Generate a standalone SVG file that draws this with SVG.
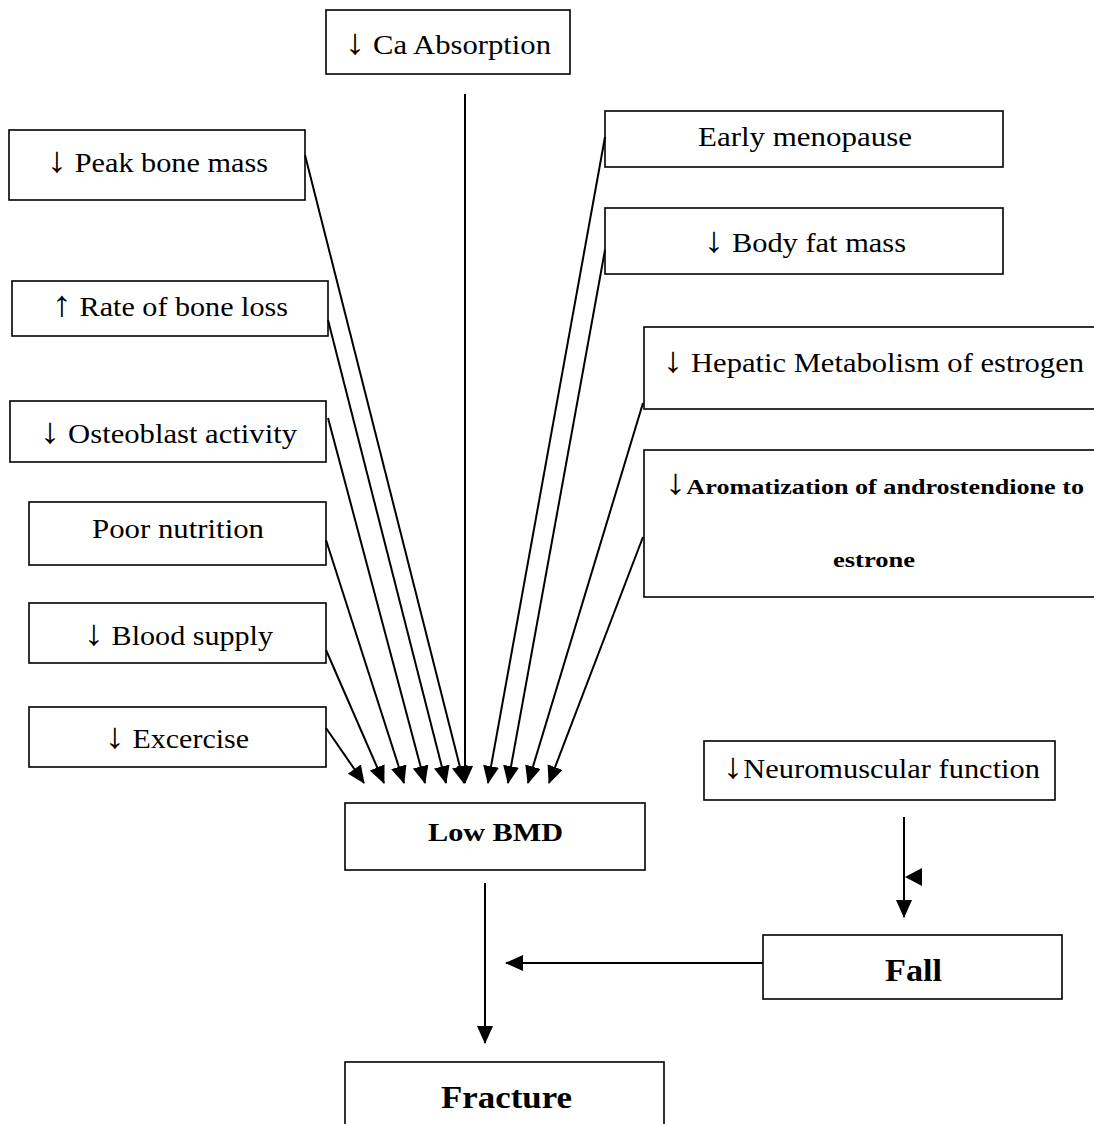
<svg xmlns="http://www.w3.org/2000/svg" width="1094" height="1124" viewBox="0 0 1094 1124">
<defs>
<style>
.box{fill:#fff;stroke:#000;stroke-width:1.6}
.t{font-family:"Liberation Serif","Times New Roman",serif;font-size:27px;fill:#000}
.b{font-family:"Liberation Serif","Times New Roman",serif;font-weight:bold;fill:#000}
.a{font-size:36px;font-weight:normal}
.c{stroke:#000;stroke-width:2;fill:none;marker-end:url(#ah)}
</style>
<marker id="ah" markerUnits="userSpaceOnUse" viewBox="0 0 18 16" markerWidth="18" markerHeight="16" refX="17" refY="8" orient="auto">
<path d="M0,0 L18,8 L0,16 z" fill="#000"/>
</marker>
</defs>
<rect width="1094" height="1124" fill="#fff"/>
<g id="ca"><rect class="box" x="326" y="10" width="244" height="64"/><text class="t" x="345" y="54" textLength="206" lengthAdjust="spacingAndGlyphs"><tspan class="a">↓</tspan> Ca Absorption</text></g>
<g id="peak"><rect class="box" x="9" y="130" width="296" height="70"/><text class="t" x="47" y="172" textLength="221" lengthAdjust="spacingAndGlyphs"><tspan class="a">↓</tspan> Peak bone mass</text></g>
<g id="rate"><rect class="box" x="12" y="281" width="316" height="55"/><text class="t" x="52" y="316" textLength="236" lengthAdjust="spacingAndGlyphs"><tspan class="a">↑</tspan> Rate of bone loss</text></g>
<g id="osteo"><rect class="box" x="10" y="401" width="316" height="61"/><text class="t" x="40" y="443" textLength="257" lengthAdjust="spacingAndGlyphs"><tspan class="a">↓</tspan> Osteoblast activity</text></g>
<g id="poor"><rect class="box" x="29" y="502" width="297" height="63"/><text class="t" x="92" y="538" textLength="172" lengthAdjust="spacingAndGlyphs">Poor nutrition</text></g>
<g id="blood"><rect class="box" x="29" y="603" width="297" height="60"/><text class="t" x="84" y="645" textLength="189" lengthAdjust="spacingAndGlyphs"><tspan class="a">↓</tspan> Blood supply</text></g>
<g id="exer"><rect class="box" x="29" y="707" width="297" height="60"/><text class="t" x="105" y="748" textLength="144" lengthAdjust="spacingAndGlyphs"><tspan class="a">↓</tspan> Excercise</text></g>
<g id="early"><rect class="box" x="605" y="111" width="398" height="56"/><text class="t" x="698" y="146" textLength="214" lengthAdjust="spacingAndGlyphs">Early menopause</text></g>
<g id="bodyfat"><rect class="box" x="605" y="208" width="398" height="66"/><text class="t" x="704" y="252" textLength="202" lengthAdjust="spacingAndGlyphs"><tspan class="a">↓</tspan> Body fat mass</text></g>
<g id="hepatic"><rect class="box" x="644" y="327" width="460" height="82"/><text class="t" x="663" y="372" textLength="421" lengthAdjust="spacingAndGlyphs"><tspan class="a">↓</tspan> Hepatic Metabolism of estrogen</text></g>
<g id="arom"><rect class="box" x="644" y="450" width="460" height="147"/><text class="b" font-size="22" x="665" y="494" textLength="419" lengthAdjust="spacingAndGlyphs"><tspan class="a">↓</tspan>Aromatization of androstendione to</text><text class="b" font-size="22" x="833" y="567" textLength="82" lengthAdjust="spacingAndGlyphs">estrone</text></g>
<g id="neuro"><rect class="box" x="704" y="741" width="351" height="59"/><text class="t" x="723" y="778" textLength="317" lengthAdjust="spacingAndGlyphs"><tspan class="a">↓</tspan>Neuromuscular function</text></g>
<g id="lowbmd"><rect class="box" x="345" y="803" width="300" height="67"/><text class="b" font-size="26" x="428" y="841" textLength="135" lengthAdjust="spacingAndGlyphs">Low BMD</text></g>
<g id="fall"><rect class="box" x="763" y="935" width="299" height="64"/><text class="b" font-size="32" x="885" y="981" textLength="57" lengthAdjust="spacingAndGlyphs">Fall</text></g>
<g id="fracture"><rect class="box" x="345" y="1062" width="319" height="80"/><text class="b" font-size="32" x="441" y="1108" textLength="131" lengthAdjust="spacingAndGlyphs">Fracture</text></g>
<g id="connectors">
<line class="c" x1="326" y1="728" x2="364" y2="783"/>
<line class="c" x1="326" y1="650" x2="384" y2="783"/>
<line class="c" x1="326" y1="540" x2="404" y2="783"/>
<line class="c" x1="328" y1="418" x2="425" y2="783"/>
<line class="c" x1="328" y1="320" x2="446" y2="783"/>
<line class="c" x1="305" y1="155" x2="464" y2="783"/>
<line class="c" x1="465" y1="94" x2="465" y2="783"/>
<line class="c" x1="605" y1="137" x2="488" y2="783"/>
<line class="c" x1="605" y1="250" x2="508" y2="783"/>
<line class="c" x1="643" y1="403" x2="528" y2="783"/>
<line class="c" x1="643" y1="537" x2="549" y2="783"/>
<line class="c" x1="485" y1="883" x2="485" y2="1043"/>
<line class="c" x1="763" y1="963" x2="506" y2="963"/>
<line class="c" x1="904" y1="817" x2="904" y2="917"/>
<path d="M905,877 L922,868 L922,886 z" fill="#000"/>
</g>
</svg>
